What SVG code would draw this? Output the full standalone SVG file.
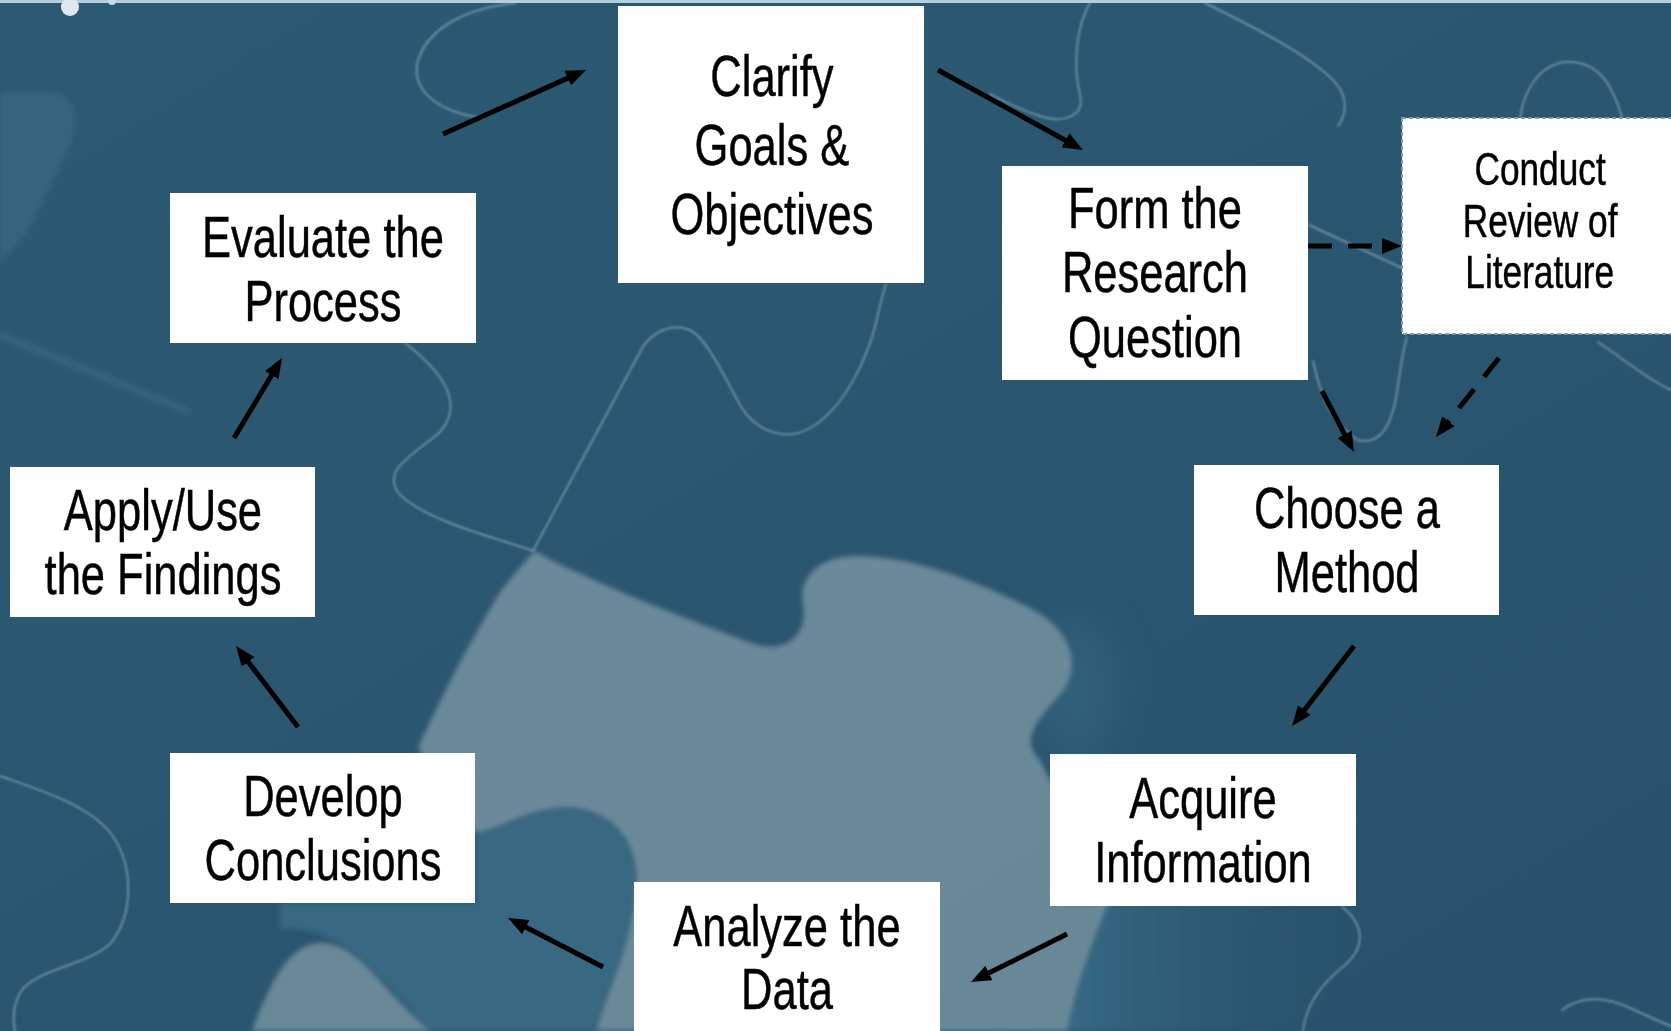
<svg xmlns="http://www.w3.org/2000/svg" width="1671" height="1031" viewBox="0 0 1671 1031">
  <defs>
    <style>
      .box { fill: #ffffff; }
      .lbl { font-family: "Liberation Sans", Arial, sans-serif; font-size: 58px; fill: #000000; stroke: #000000; stroke-width: 0.5; text-anchor: middle; }
      .sm { font-size: 47px; }
      .conn { fill: none; stroke: #000000; stroke-width: 5; marker-end: url(#ah); }
      .dash { stroke-dasharray: 24 16; }
      .edge { fill: none; stroke: #a7c7d8; stroke-width: 2; opacity: 0.5; stroke-linecap: round; }
    </style>
    <marker id="ah" markerUnits="userSpaceOnUse" markerWidth="20" markerHeight="16" viewBox="0 0 20 16" refX="8" refY="8" orient="auto">
      <path d="M0,0 L20,8 L0,16 Z" fill="#000000"/>
    </marker>
    <filter id="soft" x="-10%" y="-10%" width="120%" height="120%">
      <feGaussianBlur stdDeviation="2.5"/>
    </filter>
    <filter id="haze" x="-50%" y="-50%" width="200%" height="200%">
      <feGaussianBlur stdDeviation="22"/>
    </filter>
    <filter id="glow" x="-10%" y="-10%" width="120%" height="120%">
      <feGaussianBlur stdDeviation="0.9"/>
    </filter>
    <linearGradient id="bg" x1="0" y1="0" x2="1" y2="1">
      <stop offset="0" stop-color="#2c5a73"/>
      <stop offset="0.5" stop-color="#2b566f"/>
      <stop offset="1" stop-color="#28526b"/>
    </linearGradient>
    <linearGradient id="piece" x1="0" y1="0" x2="1" y2="1">
      <stop offset="0" stop-color="#6b8a9b"/>
      <stop offset="1" stop-color="#688898"/>
    </linearGradient>
    <linearGradient id="tealR" x1="0" y1="0" x2="1" y2="0">
      <stop offset="0" stop-color="#3a6f8c"/>
      <stop offset="1" stop-color="#2b566f" stop-opacity="0"/>
    </linearGradient>
  </defs>

  <!-- puzzle backdrop -->
  <g id="backdrop">
    <rect x="0" y="0" width="1671" height="1031" fill="url(#bg)"/>

    <!-- lighter piece at the left margin -->
    <path d="M0,92 L52,92 C74,96 82,118 70,145 L28,232 L0,262 Z" fill="#3b6882" opacity="0.7" filter="url(#soft)"/>
    <path d="M0,335 L190,412" stroke="#4a7890" stroke-width="8" opacity="0.35" filter="url(#soft)"/>

    <!-- teal shading round the lower pieces -->
    <path d="M476,833 C500,830 520,812 560,808 C600,805 636,830 636,880 C632,950 606,990 596,1031 L431,1031 C410,1010 380,975 350,950 C330,935 300,925 280,930 L280,903 L476,903 Z" fill="#376882" filter="url(#soft)"/>
    <path d="M1110,900 L1360,900 C1365,940 1330,985 1305,1031 L1068,1031 C1075,990 1090,950 1110,900 Z" fill="url(#tealR)" opacity="0.8" filter="url(#soft)"/>
    <ellipse cx="1075" cy="690" rx="40" ry="70" fill="#3a6e8c" opacity="0.45" filter="url(#haze)"/>

    <!-- large light piece -->
    <path d="M534,551 C600,586 680,616 748,642 C790,658 808,630 803,605 C798,578 818,555 860,556 C925,558 990,588 1030,608 C1072,630 1082,665 1062,692 C1040,718 1018,738 1040,760 L1110,900 C1090,950 1075,990 1068,1031 L596,1031 C606,990 632,950 636,880 C636,830 600,805 560,808 C520,812 500,830 476,833 L418,748 C440,700 470,640 503,588 Z" fill="url(#piece)" filter="url(#soft)"/>
    <!-- light lobe at the bottom left -->
    <path d="M252,1031 C270,982 288,946 318,943 C350,941 372,972 398,1000 C410,1013 424,1025 431,1031 Z" fill="#698898" filter="url(#soft)"/>

    <!-- piece outlines -->
    <g filter="url(#glow)">
      <path class="edge" d="M515,3 C470,8 430,25 418,60 C410,92 440,112 482,118"/>
      <path class="edge" d="M534,549 L640,352 C650,332 672,322 690,330 C706,338 722,372 740,405 C756,432 786,442 810,428 C842,410 870,360 880,305 L886,284"/>
      <path class="edge" d="M405,343 C440,370 466,402 440,432 C412,456 380,470 400,495 C430,522 490,536 534,551"/>
      <path class="edge" d="M0,776 C40,790 90,805 112,835 C134,866 134,915 110,944 C85,966 40,968 22,990 C14,1002 12,1015 15,1031"/>
      <path class="edge" d="M1090,3 C1074,30 1074,70 1080,95 C1085,116 1064,124 1040,116 C1020,110 1002,100 990,94"/>
      <path class="edge" d="M1205,3 C1260,30 1318,60 1338,86 C1348,100 1346,115 1338,126"/>
      <path class="edge" d="M1313,361 C1320,395 1333,425 1358,440 C1380,446 1392,425 1397,392 C1400,370 1403,350 1407,337"/>
      <path class="edge" d="M1520,118 C1524,90 1540,64 1566,62 C1596,60 1612,82 1622,118"/>
      <path class="edge" d="M1598,342 C1625,360 1648,380 1671,390"/>
      <path class="edge" d="M1342,907 C1362,922 1368,945 1345,965 C1320,985 1306,1005 1303,1031"/>
      <path class="edge" d="M1562,1010 C1580,996 1605,996 1630,1008 C1645,1015 1660,1022 1671,1026"/>
      <path class="edge" d="M1309,225 L1402,268" stroke-width="8" opacity="0.45"/>
    </g>

    <!-- window strip along the top edge -->
    <rect x="0" y="0" width="1671" height="3" fill="#b4cedc"/>
    <circle cx="70" cy="7" r="9" fill="#dde9f0"/>
    <circle cx="112" cy="1" r="4" fill="#c9dce6"/>
  </g>

  <!-- connectors -->
  <g id="connectors">
    <path class="conn" d="M443,134 L575.0,74.9"/>
    <path class="conn" d="M938,70 L1072.5,144.2"/>
    <path class="conn dash" d="M1308,246 L1390,246"/>
    <path class="conn" d="M1322,391 L1348.4,441.4"/>
    <path class="conn dash" d="M1499,358 L1443.5,427.6"/>
    <path class="conn" d="M1354,646 L1299.4,716.5"/>
    <path class="conn" d="M1067,934 L981.7,976.6"/>
    <path class="conn" d="M603,967 L518.7,923.5"/>
    <path class="conn" d="M298,727 L243.3,655.5"/>
    <path class="conn" d="M234,438 L275.8,368.3"/>
  </g>

  <!-- wrapped lines keep a trailing space, so the last line of each label sits a little to the left -->
  <g id="clarify">
    <rect class="box" x="618" y="6" width="306" height="277"/>
    <text class="lbl" transform="matrix(0.75 0 0 1 778 0)">
      <tspan x="0" y="96">Clarify</tspan>
      <tspan x="0" y="165">Goals &amp;</tspan>
      <tspan x="-8" y="234">Objectives</tspan>
    </text>
  </g>

  <g id="form-question">
    <rect class="box" x="1002" y="166" width="306" height="214"/>
    <text class="lbl" transform="matrix(0.75 0 0 1 1161 0)">
      <tspan x="0" y="228">Form the</tspan>
      <tspan x="0" y="292">Research</tspan>
      <tspan x="-8" y="357">Question</tspan>
    </text>
  </g>

  <g id="review-literature">
    <rect class="box" x="1402" y="118" width="290" height="216" stroke="#7f9aab" stroke-width="2" stroke-dasharray="4 3"/>
    <text class="lbl sm" transform="matrix(0.75 0 0 1 1545 0)">
      <tspan x="0" y="185">Conduct</tspan>
      <tspan x="0" y="237">Review of</tspan>
      <tspan x="-7" y="288">Literature</tspan>
    </text>
  </g>

  <g id="choose-method">
    <rect class="box" x="1194" y="465" width="305" height="150"/>
    <text class="lbl" transform="matrix(0.75 0 0 1 1353 0)">
      <tspan x="0" y="528">Choose a</tspan>
      <tspan x="-8" y="592">Method</tspan>
    </text>
  </g>

  <g id="acquire-information">
    <rect class="box" x="1050" y="754" width="306" height="152"/>
    <text class="lbl" transform="matrix(0.75 0 0 1 1209 0)">
      <tspan x="0" y="818">Acquire</tspan>
      <tspan x="-8" y="882">Information</tspan>
    </text>
  </g>

  <g id="analyze-data">
    <rect class="box" x="634" y="882" width="306" height="160"/>
    <text class="lbl" transform="matrix(0.75 0 0 1 793 0)">
      <tspan x="0" y="946">Analyze the</tspan>
      <tspan x="-8" y="1009">Data</tspan>
    </text>
  </g>

  <g id="develop-conclusions">
    <rect class="box" x="170" y="753" width="305" height="150"/>
    <text class="lbl" transform="matrix(0.75 0 0 1 329 0)">
      <tspan x="0" y="816">Develop</tspan>
      <tspan x="-8" y="880">Conclusions</tspan>
    </text>
  </g>

  <g id="apply-findings">
    <rect class="box" x="10" y="467" width="305" height="150"/>
    <text class="lbl" transform="matrix(0.75 0 0 1 169 0)">
      <tspan x="0" y="530">Apply/Use</tspan>
      <tspan x="-8" y="594">the Findings</tspan>
    </text>
  </g>

  <g id="evaluate-process">
    <rect class="box" x="170" y="193" width="306" height="150"/>
    <text class="lbl" transform="matrix(0.75 0 0 1 329 0)">
      <tspan x="0" y="257">Evaluate the</tspan>
      <tspan x="-8" y="321">Process</tspan>
    </text>
  </g>
</svg>
